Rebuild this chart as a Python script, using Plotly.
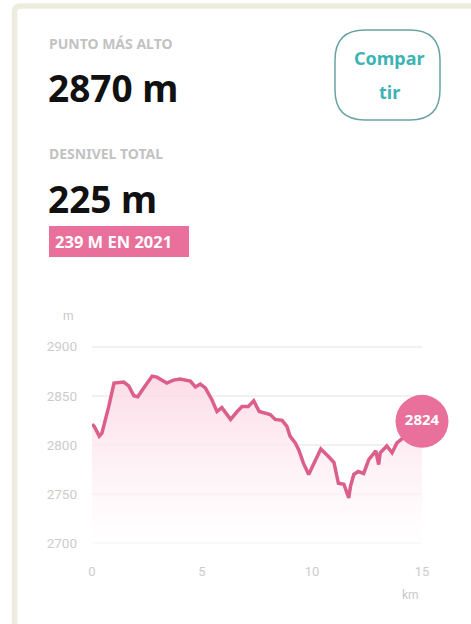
import plotly.graph_objects as go

# elevation profile
dist_km = [0, 0.1, 0.33, 0.45, 0.76, 1.0, 1.44, 1.67, 1.9, 2.08, 2.35, 2.73, 2.95,
           3.4, 3.7, 4.0, 4.47, 4.7, 4.92, 5.15, 5.45, 5.68, 5.9, 6.3, 6.6, 6.82,
           7.1, 7.35, 7.6, 7.8, 8.1, 8.33, 8.64, 8.86, 9.0, 9.24, 9.4, 9.6, 9.85,
           10.0, 10.4, 10.76, 11.0, 11.2, 11.45, 11.67, 11.75, 11.9, 12.1, 12.35,
           12.58, 12.9, 13.03, 13.1, 13.4, 13.64, 13.86, 14.3, 15.0]
elev_m = [2821, 2819, 2809, 2812, 2839, 2863, 2864, 2860, 2850, 2849, 2858, 2870, 2869,
          2863, 2866, 2867, 2865, 2859, 2862, 2858, 2846, 2834, 2838, 2826, 2834, 2839,
          2839, 2845, 2834, 2833, 2831, 2826, 2825, 2819, 2809, 2802, 2795, 2782, 2770,
          2777, 2796, 2788, 2782, 2761, 2760, 2746, 2758, 2770, 2773, 2771,
          2785, 2794, 2780, 2792, 2799, 2792, 2802, 2810, 2824]

x_ticks = [0, 5, 10, 15]
y_ticks = [2700, 2750, 2800, 2850, 2900]

max_label = "PUNTO MÁS ALTO"
max_value = "2870 m"
gain_label = "DESNIVEL TOTAL"
gain_value = "225 m"
gain_prev = "239 M EN 2021"
share_lines = ["Compar", "tir"]

W, H = 471, 624
L, R, T, B = 92, 49, 327, 66
PW, PH = W - L - R, H - T - B

PINK = "#e8709a"
LINE = "#dc5f8b"
GREY = "#c2c2c2"
TEAL = "#3db3b4"


def px(x, y):
    return (x - L) / PW, (H - B - y) / PH


def path(points):
    out = []
    for cmd, *pts in points:
        coords = []
        for i in range(0, len(pts), 2):
            a, b = px(pts[i], pts[i + 1])
            coords.append(f"{a:.5f},{b:.5f}")
        out.append(cmd + " ".join(coords))
    return " ".join(out)


def rounded(x0, y0, x1, y1, r):
    return path([
        ("M", x0 + r, y0), ("L", x1 - r, y0), ("Q", x1, y0, x1, y0 + r),
        ("L", x1, y1 - r), ("Q", x1, y1, x1 - r, y1), ("L", x0 + r, y1),
        ("Q", x0, y1, x0, y1 - r), ("L", x0, y0 + r), ("Q", x0, y0, x0 + r, y0),
        ("Z",),
    ])


fig = go.Figure()

fig.add_trace(go.Scatter(
    x=dist_km, y=elev_m, mode="lines",
    line=dict(color=LINE, width=3.5),
    fill="tozeroy",
    fillgradient=dict(type="vertical", start=2700, stop=2870,
                      colorscale=[[0, "rgba(255,255,255,0.6)"], [1, "rgba(252,216,228,0.9)"]]),
    hoverinfo="skip",
))
fig.add_trace(go.Scatter(
    x=[dist_km[-1]], y=[elev_m[-1]], mode="markers+text",
    marker=dict(size=53, color=PINK, line=dict(width=0)),
    text=[str(elev_m[-1])], textposition="middle center",
    textfont=dict(family="Noto Sans", size=15, color="white", weight="bold"),
    cliponaxis=False, hoverinfo="skip",
))

anns = []


def note(text, x, y, size, color, bold=False, xanchor="left", family="Noto Sans"):
    a, b = px(x, y)
    anns.append(dict(text=text, x=a, y=b, xref="paper", yref="paper",
                     xanchor=xanchor, yanchor="middle", showarrow=False,
                     font=dict(family=family, size=size, color=color,
                               weight="bold" if bold else "normal")))


note(max_label, 47, 43, 14, GREY, bold=True)
note(max_value, 46, 88, 37, "#111111", bold=True)
note(gain_label, 47, 154, 14, GREY, bold=True)
note(gain_value, 46, 199, 37, "#111111", bold=True)
note(gain_prev, 53, 241, 16.5, "white", bold=True)
note(share_lines[0], 389, 58, 18, TEAL, bold=True, xanchor="center")
note(share_lines[1], 389, 92, 18, TEAL, bold=True, xanchor="center")
note("m", 68, 316, 12, "#c8c8c8", xanchor="center", family="Roboto")
note("km", 410, 595, 12, "#c8c8c8", xanchor="center", family="Roboto")

b0x, b0y = px(49, 226)
b1x, b1y = px(189, 257)
shapes = [
    dict(type="path", xref="paper", yref="paper", layer="below",
         path=path([("M", 14.5, 660), ("L", 14.5, 12), ("Q", 14.5, 6, 20.5, 6), ("L", 500, 6)]),
         line=dict(color="#eeebdf", width=5.5)),
    dict(type="rect", xref="paper", yref="paper", layer="below",
         x0=b0x, y0=b0y, x1=b1x, y1=b1y, fillcolor=PINK, line=dict(width=0)),
    dict(type="path", xref="paper", yref="paper", layer="below",
         path=rounded(335, 30, 440, 120, 30),
         line=dict(color="#6aa3a5", width=1.5)),
]

fig.update_layout(
    width=W, height=H,
    margin=dict(l=L, r=R, t=T, b=B),
    paper_bgcolor="white", plot_bgcolor="white",
    showlegend=False,
    annotations=anns, shapes=shapes,
    xaxis=dict(range=[0, 15], tickvals=x_ticks, showgrid=False, zeroline=False,
               showline=False, ticks="", ticklabelstandoff=4,
               tickfont=dict(family="Roboto", size=13, color="#cccccc")),
    yaxis=dict(range=[2685, 2920], tickvals=y_ticks, showgrid=True,
               gridcolor="#f1f1f1", gridwidth=2, zeroline=False, showline=False,
               ticks="", ticklabelstandoff=14,
               tickfont=dict(family="Roboto", size=13.5, color="#cccccc")),
)

# drop the default 8px page margin so the figure fills the window
fig.write_html("out.html", config={"displayModeBar": False},
               post_script="document.body.style.margin='0';document.body.style.overflow='hidden';")
